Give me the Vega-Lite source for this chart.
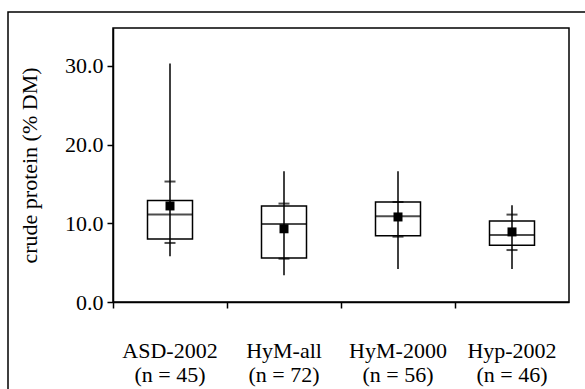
{
  "$schema": "https://vega.github.io/schema/vega-lite/v6.json",
  "width": 456,
  "height": 274,
  "autosize": "none",
  "padding": {"left": 113, "top": 28, "right": 16, "bottom": 87},
  "background": "white",
  "config": {
    "font": "Liberation Serif",
    "view": {"stroke": "black", "strokeWidth": 1.5},
    "axis": {"grid": false, "domainColor": "black", "domainWidth": 1.5, "tickColor": "black", "tickWidth": 1.5, "labelColor": "black", "titleColor": "black", "labelFont": "Liberation Serif", "titleFont": "Liberation Serif", "labelFontSize": 22, "titleFontSize": 22, "titleFontWeight": "normal"}
  },
  "data": {
    "values": [
      {"group": "ASD-2002 (n = 45)", "min": 5.8, "p10": 7.5, "q1": 8.0, "median": 11.1, "q3": 12.9, "p90": 15.3, "max": 30.3, "mean": 12.2},
      {"group": "HyM-all (n = 72)", "min": 3.4, "p10": 5.5, "q1": 5.6, "median": 9.9, "q3": 12.2, "p90": 12.5, "max": 16.6, "mean": 9.3},
      {"group": "HyM-2000 (n = 56)", "min": 4.2, "p10": 8.3, "q1": 8.4, "median": 10.9, "q3": 12.7, "p90": 12.7, "max": 16.6, "mean": 10.8},
      {"group": "Hyp-2002 (n = 46)", "min": 4.2, "p10": 6.6, "q1": 7.2, "median": 8.5, "q3": 10.3, "p90": 11.1, "max": 12.3, "mean": 8.9}
    ]
  },
  "encoding": {
    "x": {
      "field": "group", "type": "nominal", "sort": null,
      "scale": {"paddingInner": 0, "paddingOuter": 0},
      "axis": {"title": null, "labelAngle": 0, "bandPosition": 0, "tickSize": 6, "labelPadding": 32, "labelLineHeight": 24, "labelBaseline": "top", "labelAlign": "center",
        "labelExpr": "[slice(datum.label, 0, indexof(datum.label, ' (')), slice(datum.label, indexof(datum.label, ' (') + 1)]"}
    }
  },
  "layer": [
    {
      "mark": {"type": "rect", "fill": null, "filled": false, "stroke": "black", "strokeWidth": 1.5, "clip": false},
      "data": {"values": [{}]},
      "encoding": {"x": {"value": -105}, "x2": {"value": 482}, "y": {"value": -16}, "y2": {"value": 370}}
    },
    {
      "mark": {"type": "bar", "fill": "white", "stroke": "black", "strokeWidth": 1.5, "size": 45},
      "encoding": {
        "y": {"field": "q1", "type": "quantitative", "scale": {"domain": [0, 34.8], "nice": false},
          "axis": {"title": "crude protein (% DM)", "values": [0, 10, 20, 30], "format": ".1f", "tickSize": 6, "labelPadding": 4, "titlePadding": 23}},
        "y2": {"field": "q3"}
      }
    },
    {
      "mark": {"type": "rule", "color": "black", "strokeWidth": 1.5},
      "encoding": {"y": {"field": "min", "type": "quantitative"}, "y2": {"field": "max"}}
    },
    {
      "mark": {"type": "tick", "color": "black", "thickness": 2, "size": 45},
      "encoding": {"y": {"field": "median", "type": "quantitative"}}
    },
    {
      "mark": {"type": "tick", "color": "black", "thickness": 2, "size": 11},
      "encoding": {"y": {"field": "p10", "type": "quantitative"}}
    },
    {
      "mark": {"type": "tick", "color": "black", "thickness": 2, "size": 11},
      "encoding": {"y": {"field": "p90", "type": "quantitative"}}
    },
    {
      "mark": {"type": "square", "color": "black", "filled": true, "opacity": 1, "size": 81},
      "encoding": {"y": {"field": "mean", "type": "quantitative"}}
    }
  ]
}
